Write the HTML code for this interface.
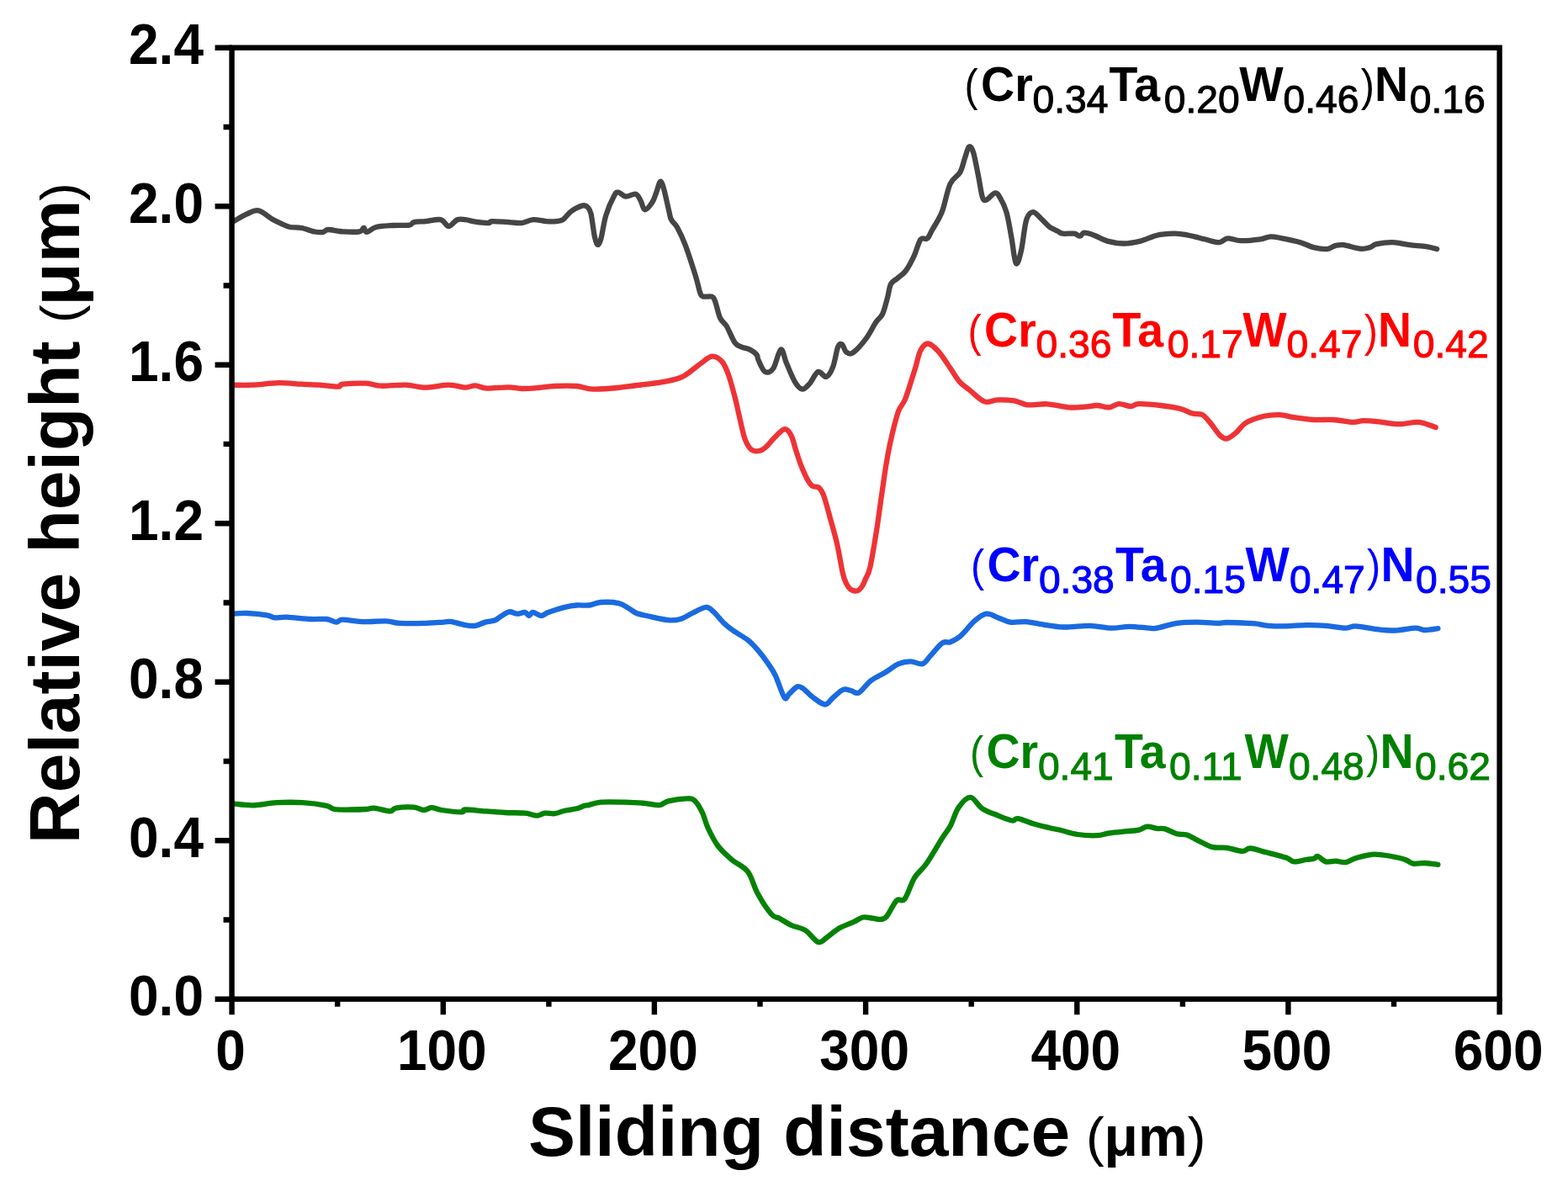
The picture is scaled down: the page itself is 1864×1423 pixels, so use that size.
<!DOCTYPE html>
<html><head><meta charset="utf-8"><title>Relative height vs sliding distance</title>
<style>html,body{margin:0;padding:0;background:#fff;}svg{display:block;}</style>
</head><body>
<svg width="1864" height="1423" viewBox="0 0 1864 1423">
<rect width="1864" height="1423" fill="#fff"/>
<g fill="none" stroke-width="6.3" stroke-linejoin="round" stroke-linecap="round">
<path stroke="#454545" d="M277.9,263.1C280.5,261.6 288.7,256.4 293.6,254.3C298.5,252.2 302.5,249.3 307.4,250.3C312.3,251.3 318.5,257.6 323.1,260.2C327.7,262.8 331.3,264.5 334.9,266.1C338.5,267.7 340.9,269.2 344.8,270.0C348.7,270.8 353.6,270.1 358.5,271.0C363.4,271.9 370.0,274.7 374.3,275.5C378.6,276.3 381.5,276.3 384.1,275.9C386.7,275.5 386.1,273.1 390.0,273.0C393.9,272.9 401.5,274.9 407.7,275.3C413.9,275.7 423.3,276.0 427.4,275.3C431.5,274.6 430.8,270.9 432.3,271.0C433.8,271.1 433.7,276.1 436.2,275.9C438.7,275.7 442.0,271.3 447.1,270.0C452.2,268.7 460.1,268.4 466.7,268.0C473.2,267.6 482.1,268.2 486.4,267.6C490.7,267.0 489.0,264.9 492.3,264.1C495.6,263.4 500.9,263.6 506.1,263.1C511.4,262.6 519.2,260.2 523.8,261.2C528.4,262.2 530.3,269.0 533.6,269.0C536.9,269.0 540.2,262.5 543.5,261.2C546.8,259.9 549.7,260.8 553.3,261.2C556.9,261.6 560.5,263.0 565.1,263.7C569.7,264.4 577.5,265.2 580.8,265.1C584.1,265.0 580.9,263.3 584.8,263.1C588.7,262.9 598.5,263.8 604.4,264.1C610.3,264.4 615.1,265.6 620.0,265.1C624.9,264.6 628.9,261.5 633.8,261.2C638.7,260.9 644.9,262.8 649.5,263.1C654.1,263.4 658.0,263.4 661.3,263.1C664.6,262.8 666.2,263.2 669.2,261.2C672.2,259.2 675.1,254.1 679.0,251.3C682.9,248.5 689.5,245.2 692.8,244.4C696.1,243.6 697.1,244.8 698.7,246.4C700.3,248.1 701.3,248.7 702.6,254.3C703.9,259.9 705.4,273.7 706.6,279.8C707.9,285.9 708.8,290.0 710.1,290.7C711.4,291.4 712.7,289.6 714.4,283.8C716.1,278.1 717.7,264.7 720.3,256.2C722.9,247.7 727.7,237.2 730.2,232.6C732.7,228.0 732.8,228.5 735.1,228.7C737.4,228.9 740.5,233.3 743.9,233.6C747.3,233.9 752.8,229.9 755.7,230.7C758.7,231.5 759.8,235.4 761.6,238.5C763.4,241.6 764.3,249.0 766.6,249.3C768.9,249.6 773.1,243.9 775.4,240.5C777.7,237.1 778.7,232.8 780.3,228.7C781.9,224.6 783.4,216.6 784.9,215.9C786.4,215.2 787.5,219.1 789.2,224.8C790.9,230.5 793.6,244.2 795.1,250.3C796.6,256.4 796.4,257.9 798.0,261.2C799.6,264.5 802.1,264.9 804.9,270.0C807.7,275.1 811.2,282.1 814.8,291.6C818.4,301.1 823.6,317.6 826.6,327.1C829.6,336.6 830.9,344.4 832.5,348.7C834.1,352.9 834.1,352.0 836.4,352.6C838.7,353.2 843.9,351.6 846.2,352.6C848.5,353.6 848.6,354.2 850.2,358.5C851.9,362.8 853.8,373.3 856.1,378.2C858.4,383.1 861.0,383.1 863.9,388.0C866.8,392.9 870.8,403.6 873.8,407.7C876.8,411.8 878.8,411.3 881.7,412.6C884.7,413.9 888.5,414.1 891.5,415.6C894.5,417.1 897.7,419.4 899.4,421.5C901.1,423.6 899.9,424.8 901.6,428.2C903.3,431.6 906.5,440.4 909.5,442.0C912.5,443.6 916.2,442.4 919.3,438.0C922.4,433.6 925.6,416.4 928.2,415.4C930.8,414.4 932.3,425.7 935.1,432.1C937.9,438.5 941.8,448.7 944.9,453.8C948.0,458.9 950.8,462.3 953.8,462.6C956.8,462.9 959.5,459.2 962.6,455.8C965.7,452.4 969.2,443.3 972.5,442.0C975.8,440.7 979.3,448.9 982.3,447.9C985.2,446.9 987.9,442.0 990.2,436.1C992.5,430.2 994.3,416.9 996.1,412.5C997.9,408.1 999.4,408.5 1001.0,409.5C1002.6,410.5 1003.8,416.8 1005.9,418.4C1008.0,420.0 1009.9,422.0 1013.8,419.4C1017.7,416.8 1024.9,408.7 1029.5,402.6C1034.1,396.5 1038.0,387.9 1041.3,383.0C1044.6,378.1 1046.9,378.0 1049.2,373.1C1051.5,368.2 1053.5,359.4 1055.1,353.5C1056.7,347.6 1057.0,341.5 1059.0,337.7C1061.0,333.9 1064.0,333.4 1066.9,330.8C1069.9,328.2 1073.4,326.4 1076.7,322.0C1080.0,317.6 1083.6,310.5 1086.6,304.3C1089.5,298.1 1091.8,288.1 1094.4,284.6C1097.0,281.2 1100.0,285.4 1102.3,283.6C1104.5,281.8 1105.0,279.1 1107.9,273.8C1110.8,268.6 1116.1,261.3 1119.7,252.1C1123.3,242.9 1125.9,226.6 1129.5,218.7C1133.1,210.8 1138.3,210.2 1141.3,204.9C1144.2,199.7 1145.4,192.3 1147.2,187.2C1149.0,182.1 1150.4,175.4 1152.1,174.4C1153.8,173.4 1155.3,175.6 1157.1,181.3C1158.9,187.1 1161.2,200.1 1163.0,208.9C1164.8,217.8 1166.3,229.7 1167.9,234.4C1169.5,239.2 1170.3,238.2 1172.8,237.4C1175.2,236.6 1180.0,230.0 1182.6,229.5C1185.2,229.0 1186.2,230.6 1188.5,234.4C1190.8,238.2 1194.1,244.2 1196.4,252.1C1198.7,260.0 1200.4,271.4 1202.3,281.6C1204.2,291.8 1205.8,310.5 1207.8,313.1C1209.8,315.7 1212.1,305.9 1214.1,297.4C1216.1,288.9 1217.7,269.6 1220.0,262.0C1222.3,254.4 1225.0,252.4 1227.9,252.1C1230.9,251.8 1234.4,257.1 1237.7,260.0C1241.0,262.9 1244.3,267.3 1247.6,269.8C1250.9,272.3 1254.8,273.5 1257.4,274.8C1260.0,276.1 1260.0,277.2 1263.3,277.7C1266.6,278.2 1273.7,277.2 1277.1,277.7C1280.5,278.2 1281.9,280.9 1283.9,280.7C1285.9,280.5 1286.1,276.9 1288.9,276.7C1291.7,276.5 1296.1,278.0 1300.7,279.7C1305.3,281.4 1310.5,285.0 1316.4,286.6C1322.3,288.2 1329.5,289.5 1336.1,289.5C1342.7,289.5 1349.2,288.2 1355.8,286.6C1362.3,285.0 1368.9,281.2 1375.4,279.7C1382.0,278.2 1389.8,277.9 1395.1,277.7C1400.3,277.5 1402.8,278.1 1406.9,278.7C1411.1,279.3 1415.8,280.4 1420.0,281.3C1424.2,282.2 1426.9,283.2 1431.8,284.3C1436.7,285.4 1444.9,288.4 1449.5,288.2C1454.1,288.0 1455.0,283.6 1459.3,283.3C1463.6,283.0 1468.5,286.0 1475.1,286.2C1481.7,286.4 1492.8,285.1 1498.7,284.3C1504.6,283.5 1506.2,281.5 1510.5,281.3C1514.8,281.1 1518.4,282.2 1524.3,283.3C1530.2,284.4 1539.7,286.4 1545.9,288.2C1552.1,290.0 1556.3,292.8 1561.6,294.1C1566.8,295.4 1573.1,296.4 1577.4,296.1C1581.7,295.8 1583.9,292.9 1587.2,292.1C1590.5,291.3 1592.2,290.6 1597.1,291.2C1602.0,291.8 1611.5,295.2 1616.7,295.7C1621.9,296.2 1625.2,295.0 1628.5,294.1C1631.8,293.2 1631.8,291.2 1636.4,290.2C1641.0,289.2 1649.5,288.0 1656.1,288.2C1662.7,288.4 1669.2,290.4 1675.8,291.2C1682.3,292.0 1690.0,292.3 1695.4,293.1C1700.8,293.9 1706.1,295.6 1708.2,296.1"/>
<path stroke="#ee3336" d="M275.9,457.7C279.8,457.7 290.3,458.1 299.5,457.7C308.7,457.3 321.2,455.4 331.0,455.2C340.8,455.0 350.3,456.3 358.5,456.7C366.7,457.1 373.0,457.2 380.2,457.7C387.4,458.2 397.2,459.9 401.8,459.7C406.4,459.5 402.1,457.4 407.7,456.7C413.3,456.0 427.8,455.4 435.3,455.7C442.9,456.0 445.1,458.4 453.0,458.7C460.9,459.0 473.6,457.4 482.5,457.7C491.4,458.0 497.6,460.7 506.1,460.7C514.6,460.7 525.7,457.7 533.6,457.7C541.5,457.7 548.0,460.6 553.3,460.7C558.5,460.8 560.8,458.1 565.1,458.3C569.4,458.5 572.4,461.3 578.9,461.6C585.4,461.9 597.5,460.2 604.4,460.3C611.2,460.4 614.1,461.9 620.0,462.0C625.9,462.1 633.2,461.5 639.7,461.0C646.2,460.5 651.8,459.3 659.3,459.0C666.8,458.7 677.3,458.4 684.9,459.0C692.5,459.6 696.4,462.3 704.6,462.6C712.8,462.9 725.2,461.8 734.1,461.0C743.0,460.2 748.9,459.1 757.7,458.0C766.6,456.9 778.4,455.7 787.2,454.1C796.1,452.5 803.2,451.8 810.8,448.2C818.3,444.6 826.6,436.6 832.5,432.5C838.4,428.4 842.0,424.1 846.2,423.6C850.5,423.1 854.7,425.9 858.0,429.5C861.3,433.1 863.3,438.0 865.9,445.2C868.5,452.4 871.5,463.9 873.8,472.8C876.1,481.7 877.7,490.2 879.7,498.4C881.7,506.6 883.3,515.9 885.6,522.0C887.9,528.1 890.5,532.5 893.5,534.8C896.5,537.1 900.3,536.4 903.3,535.7C906.2,535.0 908.2,533.4 911.2,530.8C914.2,528.2 917.4,523.4 921.0,520.0C924.6,516.6 929.5,510.5 932.8,510.2C936.1,509.9 938.5,514.0 940.7,518.0C942.9,522.0 944.0,528.7 945.9,534.4C947.8,540.1 949.5,546.2 951.8,552.1C954.1,558.0 957.4,565.5 959.7,569.8C962.0,574.1 963.3,576.1 965.6,577.7C967.9,579.4 971.1,577.7 973.4,579.7C975.7,581.7 977.0,583.3 979.3,589.5C981.6,595.7 984.6,607.6 987.2,617.1C989.8,626.6 992.6,635.8 995.1,646.6C997.6,657.4 1000.1,674.0 1002.0,682.0C1003.9,690.0 1005.0,691.4 1006.5,694.5C1008.0,697.6 1009.4,699.2 1011.0,700.5C1012.6,701.8 1014.3,702.3 1016.0,702.5C1017.7,702.7 1019.4,702.6 1021.0,701.5C1022.6,700.4 1024.2,698.2 1025.5,696.0C1026.8,693.8 1027.5,691.6 1029.0,688.0C1030.5,684.4 1032.2,684.0 1034.4,674.1C1036.6,664.2 1040.0,643.3 1042.3,628.9C1044.6,614.5 1046.2,601.0 1048.2,587.5C1050.2,574.0 1052.1,559.7 1054.1,548.2C1056.1,536.7 1057.7,528.5 1060.0,518.7C1062.3,508.9 1065.3,496.4 1067.9,489.2C1070.5,482.0 1073.1,481.6 1075.7,475.4C1078.3,469.2 1081.5,458.4 1083.6,451.8C1085.7,445.2 1086.7,442.0 1088.5,436.1C1090.3,430.2 1091.9,421.0 1094.4,416.4C1096.9,411.8 1099.7,408.2 1103.3,408.5C1106.9,408.8 1111.7,413.5 1116.1,418.4C1120.5,423.3 1125.8,432.1 1129.9,438.0C1134.0,443.9 1136.9,449.5 1140.7,453.8C1144.5,458.1 1147.6,459.7 1152.5,463.6C1157.4,467.5 1164.6,475.4 1170.2,477.4C1175.8,479.4 1180.0,475.6 1185.9,475.4C1191.8,475.2 1199.7,475.4 1205.6,476.4C1211.5,477.4 1214.8,480.6 1221.3,481.3C1227.8,482.0 1236.7,479.8 1244.9,480.3C1253.1,480.8 1263.0,483.7 1270.5,484.3C1278.0,484.9 1284.4,484.1 1290.0,483.7C1295.6,483.3 1299.5,481.9 1304.2,482.0C1308.9,482.1 1314.0,484.7 1318.3,484.4C1322.6,484.1 1325.8,480.3 1330.1,480.1C1334.4,479.9 1340.4,483.0 1344.3,483.0C1348.2,483.0 1347.8,480.3 1353.7,480.1C1359.6,479.9 1371.4,481.0 1379.7,482.0C1388.0,483.0 1397.0,484.4 1403.3,486.0C1409.6,487.6 1413.2,490.3 1417.5,491.5C1421.8,492.7 1425.8,491.2 1429.3,493.1C1432.8,495.0 1435.2,498.5 1438.7,502.6C1442.2,506.7 1447.2,514.8 1450.5,517.9C1453.8,521.0 1455.6,522.0 1458.8,521.4C1462.0,520.8 1465.7,517.5 1469.4,514.4C1473.1,511.3 1475.7,505.9 1481.2,502.6C1486.7,499.3 1495.8,496.4 1502.5,494.8C1509.2,493.2 1515.4,492.9 1521.3,493.1C1527.2,493.3 1531.2,495.2 1537.9,496.2C1544.6,497.2 1553.6,498.5 1561.5,499.0C1569.4,499.5 1577.2,498.5 1585.1,499.0C1593.0,499.5 1602.8,501.7 1608.7,501.9C1614.6,502.1 1615.4,500.3 1620.5,500.2C1625.6,500.1 1632.3,500.7 1639.4,501.4C1646.5,502.1 1655.1,504.1 1663.0,504.2C1670.9,504.3 1679.3,501.3 1686.6,501.9C1693.9,502.5 1703.3,507.0 1706.7,508.0"/>
<path stroke="#1a6ae0" d="M277.1,729.7C279.9,729.6 286.9,728.7 293.6,729.0C300.3,729.3 311.7,730.4 317.2,731.3C322.7,732.2 322.8,734.0 326.7,734.4C330.6,734.8 333.7,733.4 340.8,733.7C347.9,734.0 361.3,735.6 369.2,736.0C377.1,736.4 382.9,735.4 388.0,736.0C393.1,736.6 396.7,739.5 399.8,739.6C402.9,739.7 401.8,736.8 406.9,736.7C412.0,736.6 421.8,738.8 430.5,739.1C439.2,739.4 451.4,738.1 458.9,738.4C466.4,738.7 467.5,740.4 475.4,740.8C483.3,741.2 497.5,741.0 506.1,740.8C514.8,740.6 522.2,739.9 527.3,739.6C532.4,739.3 532.5,738.5 536.8,739.1C541.1,739.7 548.6,742.3 553.3,743.1C558.0,743.9 561.2,744.4 565.1,743.8C569.0,743.2 573.0,740.7 576.9,739.6C580.8,738.5 585.6,738.4 588.7,737.2C591.9,736.0 593.0,734.1 595.8,732.5C598.5,730.9 602.1,727.8 605.2,727.3C608.4,726.8 611.6,729.6 614.7,729.7C617.9,729.8 621.8,727.4 624.1,727.8C626.5,728.2 627.2,732.0 628.8,732.0C630.4,732.0 631.1,727.8 633.5,727.8C635.9,727.8 639.9,732.0 643.0,732.0C646.1,732.0 647.7,729.5 652.4,727.8C657.1,726.1 665.8,723.3 671.3,721.9C676.8,720.5 680.7,719.9 685.5,719.5C690.3,719.1 695.2,720.1 700.0,719.5C704.8,718.9 708.3,716.4 714.2,716.0C720.1,715.6 729.9,715.9 735.4,717.1C740.9,718.3 743.7,721.0 747.2,723.0C750.8,725.0 752.8,727.4 756.7,729.0C760.6,730.6 764.5,731.1 770.8,732.5C777.1,733.9 788.1,736.6 794.4,737.2C800.7,737.8 803.9,737.4 808.6,736.0C813.3,734.6 817.7,731.4 822.8,729.0C827.9,726.6 835.0,722.1 839.3,721.9C843.6,721.7 845.2,724.6 848.7,727.8C852.2,730.9 856.6,737.1 860.5,740.8C864.4,744.5 867.6,746.9 872.3,750.2C877.0,753.5 884.2,757.1 888.9,760.8C893.6,764.5 896.8,768.1 900.7,772.6C904.6,777.1 909.0,782.9 912.5,788.0C916.0,793.1 918.6,796.4 921.9,803.3C925.2,810.2 929.8,825.8 932.5,829.3C935.2,832.8 935.8,826.8 938.4,824.6C941.0,822.4 945.1,817.3 947.9,816.3C950.7,815.3 951.9,816.5 955.0,818.7C958.1,820.9 962.5,826.2 966.8,829.3C971.1,832.4 977.0,837.5 980.9,837.5C984.8,837.5 986.8,832.2 990.4,829.3C994.0,826.3 998.7,821.2 1002.2,819.8C1005.7,818.4 1008.5,820.4 1011.6,821.0C1014.8,821.6 1017.2,825.4 1021.1,823.4C1025.0,821.4 1030.1,813.1 1035.2,809.2C1040.3,805.3 1046.2,803.1 1051.7,799.8C1057.2,796.5 1063.2,791.5 1068.3,789.2C1073.4,787.0 1077.7,786.3 1082.4,786.3C1087.1,786.3 1092.7,790.3 1096.6,789.2C1100.5,788.1 1102.1,783.8 1106.0,779.7C1109.9,775.6 1116.2,767.1 1120.2,764.4C1124.2,761.6 1126.1,764.6 1129.7,763.2C1133.3,761.8 1137.0,760.2 1141.8,756.1C1146.6,752.0 1153.2,742.8 1158.3,738.4C1163.4,734.0 1167.8,730.4 1172.5,729.7C1177.2,729.0 1182.0,732.8 1186.7,734.4C1191.4,736.0 1195.3,738.8 1200.8,739.6C1206.3,740.4 1213.8,738.7 1219.7,739.1C1225.6,739.5 1228.7,740.8 1236.2,741.9C1243.7,743.0 1254.8,745.2 1264.6,745.5C1274.4,745.8 1285.9,743.6 1295.3,743.8C1304.7,744.0 1313.3,746.5 1321.2,746.7C1329.1,746.9 1335.0,744.8 1342.5,744.8C1350.0,744.8 1360.6,746.4 1366.1,746.7C1371.6,747.0 1369.9,747.7 1375.4,746.7C1380.9,745.7 1391.2,742.0 1399.1,740.8C1407.0,739.6 1414.4,739.6 1422.7,739.6C1431.0,739.6 1442.8,740.7 1448.7,740.8C1454.6,740.9 1452.1,740.0 1458.0,740.0C1463.9,740.0 1478.2,740.5 1484.1,740.8C1490.0,741.0 1489.5,741.0 1493.4,741.5C1497.3,742.0 1501.8,743.3 1507.7,743.8C1513.6,744.3 1521.4,744.4 1528.9,744.3C1536.4,744.2 1544.6,743.2 1552.5,743.1C1560.4,743.0 1568.2,743.2 1576.1,743.8C1584.0,744.4 1593.8,746.6 1599.7,746.7C1605.6,746.8 1605.6,744.1 1611.5,744.3C1617.4,744.5 1627.2,746.9 1635.1,747.8C1643.0,748.7 1650.8,749.7 1658.7,749.5C1666.6,749.3 1676.4,746.8 1682.3,746.7C1688.2,746.6 1689.6,748.9 1694.1,749.0C1698.6,749.1 1706.9,747.4 1709.4,747.1"/>
<path stroke="#068206" d="M277.1,955.4C281.0,955.7 292.1,957.5 300.7,957.3C309.3,957.1 319.2,954.7 329.0,954.2C338.8,953.7 349.9,953.6 359.7,954.2C369.5,954.8 381.7,956.5 388.0,957.8C394.3,959.1 392.8,961.2 397.5,962.0C402.2,962.8 410.1,962.5 416.4,962.5C422.7,962.5 430.6,962.3 435.3,962.0C440.0,961.7 440.0,960.2 444.7,960.6C449.4,961.0 459.3,964.4 463.6,964.4C467.9,964.4 466.0,961.4 470.7,960.6C475.4,959.8 486.4,959.3 491.9,959.7C497.4,960.1 500.1,962.9 503.7,963.0C507.2,963.1 509.7,960.1 513.2,960.1C516.8,960.1 519.1,962.1 525.0,963.0C530.9,963.9 543.9,965.4 548.6,965.3C553.3,965.2 548.6,962.6 553.3,962.5C558.0,962.4 569.0,963.8 576.9,964.4C584.8,965.0 592.6,965.6 600.5,966.0C608.4,966.4 617.8,966.1 624.1,966.7C630.4,967.3 634.4,969.6 638.3,969.6C642.2,969.6 644.2,967.1 647.7,966.7C651.2,966.3 655.6,967.7 659.5,967.2C663.4,966.7 667.0,964.7 671.3,963.7C675.6,962.7 681.6,962.3 685.5,961.3C689.4,960.3 692.5,958.5 694.9,957.8C697.3,957.1 696.8,957.8 700.0,957.1C703.2,956.4 707.1,954.2 714.2,953.6C721.3,953.0 733.9,953.4 742.5,953.6C751.1,953.8 759.2,954.2 766.1,954.8C773.0,955.4 779.1,957.5 783.8,957.1C788.5,956.7 789.1,953.7 794.4,952.4C799.7,951.1 810.6,949.6 815.7,949.4C820.8,949.2 822.0,948.5 825.1,951.2C828.2,953.9 831.9,959.9 834.6,965.4C837.4,970.9 838.5,977.6 841.6,984.3C844.7,991.0 848.7,999.2 853.4,1005.5C858.1,1011.8 864.1,1017.0 870.0,1022.1C875.9,1027.2 883.8,1029.5 888.9,1036.2C894.0,1042.9 896.0,1053.7 900.7,1062.2C905.4,1070.7 912.9,1082.1 917.2,1087.0C921.5,1091.9 922.7,1089.5 926.6,1091.7C930.5,1093.9 935.7,1097.6 940.8,1100.0C945.9,1102.4 952.0,1102.6 957.3,1105.9C962.6,1109.2 968.4,1118.6 972.7,1120.0C977.0,1121.4 979.2,1116.8 983.3,1114.1C987.4,1111.3 992.4,1106.5 997.5,1103.5C1002.6,1100.5 1009.3,1098.6 1014.0,1096.4C1018.7,1094.2 1021.9,1091.3 1025.8,1090.5C1029.7,1089.7 1034.1,1091.3 1037.6,1091.7C1041.1,1092.1 1044.2,1093.3 1047.0,1092.9C1049.8,1092.5 1050.9,1093.1 1054.1,1089.4C1057.2,1085.7 1062.4,1073.9 1065.9,1070.5C1069.5,1067.1 1071.9,1073.3 1075.4,1068.8C1079.0,1064.3 1082.9,1050.3 1087.2,1043.3C1091.5,1036.3 1095.8,1034.7 1101.3,1026.8C1106.8,1018.9 1115.4,1003.7 1120.2,996.1C1125.0,988.5 1126.8,987.4 1130.0,981.4C1133.2,975.4 1135.5,965.7 1139.4,960.1C1143.3,954.5 1148.9,947.7 1153.6,947.9C1158.3,948.1 1162.3,957.7 1167.8,961.3C1173.3,964.9 1180.8,967.2 1186.7,969.6C1192.6,972.0 1199.3,974.9 1203.2,975.5C1207.1,976.1 1206.0,972.4 1210.3,973.1C1214.6,973.8 1222.9,977.6 1229.2,979.5C1235.5,981.4 1242.5,982.9 1248.0,984.2C1253.5,985.5 1256.7,986.0 1262.2,987.3C1267.7,988.6 1274.0,991.0 1281.1,992.0C1288.2,993.0 1298.4,993.5 1304.7,993.2C1311.0,992.9 1313.0,991.1 1318.9,990.3C1324.8,989.5 1334.1,988.8 1340.0,988.2C1345.9,987.6 1350.3,987.5 1354.2,986.6C1358.1,985.7 1360.1,982.9 1363.6,982.6C1367.1,982.3 1371.9,984.4 1375.4,984.9C1379.0,985.4 1381.0,984.3 1384.9,985.4C1388.8,986.5 1394.7,990.1 1399.0,991.3C1403.3,992.5 1406.5,991.1 1410.8,992.5C1415.1,993.9 1419.9,997.2 1425.0,999.6C1430.1,1002.0 1436.0,1005.7 1441.5,1007.1C1447.0,1008.5 1452.1,1007.0 1458.0,1007.8C1463.9,1008.6 1472.2,1011.8 1476.9,1011.9C1481.6,1012.0 1481.7,1008.3 1486.4,1008.5C1491.1,1008.7 1498.2,1011.4 1505.3,1013.3C1512.4,1015.1 1523.4,1017.8 1528.9,1019.6C1534.4,1021.5 1534.4,1024.0 1538.3,1024.4C1542.2,1024.8 1548.6,1022.6 1552.5,1022.0C1556.4,1021.4 1559.6,1021.5 1561.9,1020.8C1564.2,1020.1 1564.2,1017.4 1566.6,1018.0C1569.0,1018.6 1572.5,1023.5 1576.1,1024.4C1579.6,1025.4 1584.0,1023.6 1587.9,1023.7C1591.8,1023.8 1595.8,1025.7 1599.7,1025.1C1603.6,1024.5 1606.0,1021.9 1611.5,1020.3C1617.0,1018.7 1625.6,1016.0 1632.7,1015.6C1639.8,1015.2 1647.7,1016.9 1654.0,1018.0C1660.3,1019.1 1666.2,1020.5 1670.5,1022.0C1674.8,1023.5 1676.0,1026.0 1679.9,1026.7C1683.8,1027.4 1689.2,1025.8 1694.1,1026.0C1699.0,1026.2 1706.9,1027.6 1709.4,1027.9"/>
</g>
<rect x="275.6" y="56.7" width="1507.0" height="1131.0" fill="none" stroke="#000" stroke-width="6.4" stroke-linejoin="miter"/>
<path d="M275.6,1187.7V1206.2 M401.2,1187.7V1196.7 M526.8,1187.7V1206.2 M652.4,1187.7V1196.7 M777.9,1187.7V1206.2 M903.5,1187.7V1196.7 M1029.1,1187.7V1206.2 M1154.7,1187.7V1196.7 M1280.3,1187.7V1206.2 M1405.9,1187.7V1196.7 M1531.4,1187.7V1206.2 M1657.0,1187.7V1196.7 M1782.6,1187.7V1206.2 M275.6,1187.7H255.6 M275.6,1093.5H265.6 M275.6,999.2H255.6 M275.6,905.0H265.6 M275.6,810.7H255.6 M275.6,716.5H265.6 M275.6,622.2H255.6 M275.6,527.9H265.6 M275.6,433.7H255.6 M275.6,339.5H265.6 M275.6,245.2H255.6 M275.6,151.0H265.6 M275.6,56.7H255.6" stroke="#000" stroke-width="6.4" fill="none"/>
<g font-family="Liberation Sans, sans-serif" font-weight="bold" font-size="68.5" fill="#000">
<text transform="translate(242,1207.0) scale(0.935,1)" text-anchor="end">0.0</text>
<text transform="translate(242,1018.5) scale(0.935,1)" text-anchor="end">0.4</text>
<text transform="translate(242,830.0) scale(0.935,1)" text-anchor="end">0.8</text>
<text transform="translate(242,641.5) scale(0.935,1)" text-anchor="end">1.2</text>
<text transform="translate(242,453.0) scale(0.935,1)" text-anchor="end">1.6</text>
<text transform="translate(242,264.5) scale(0.935,1)" text-anchor="end">2.0</text>
<text transform="translate(242,76.0) scale(0.935,1)" text-anchor="end">2.4</text>
<text transform="translate(274.1,1272.3) scale(0.935,1)" text-anchor="middle">0</text>
<text transform="translate(525.3,1272.3) scale(0.935,1)" text-anchor="middle">100</text>
<text transform="translate(776.4,1272.3) scale(0.935,1)" text-anchor="middle">200</text>
<text transform="translate(1027.6,1272.3) scale(0.935,1)" text-anchor="middle">300</text>
<text transform="translate(1278.8,1272.3) scale(0.935,1)" text-anchor="middle">400</text>
<text transform="translate(1529.9,1272.3) scale(0.935,1)" text-anchor="middle">500</text>
<text transform="translate(1781.1,1272.3) scale(0.935,1)" text-anchor="middle">600</text>
</g>
<text x="628" y="1374" font-family="Liberation Sans, sans-serif" font-weight="bold" font-size="84" fill="#000">Sliding distance <tspan font-size="65" dx="-4.5" font-weight="normal">(</tspan><tspan font-size="66">μm</tspan><tspan font-size="65" font-weight="normal">)</tspan></text>
<text transform="translate(94,1003) rotate(-90)" font-family="Liberation Sans, sans-serif" font-weight="bold" font-size="84" fill="#000">Relative height <tspan font-size="65" font-weight="normal" dx="-1.8">(</tspan><tspan font-size="84" dx="-1.4">μm</tspan><tspan font-size="65" font-weight="normal" dx="-1.2">)</tspan></text>
<g><text transform="translate(1146.5,120.0) scale(0.9,1)" font-family="Liberation Sans, sans-serif" font-weight="normal" font-size="54" fill="#000000">(</text><text transform="translate(1166.1,120.0) scale(0.97,1)" font-family="Liberation Sans, sans-serif" font-weight="bold" font-size="57.2" fill="#000000">Cr</text><text transform="translate(1227.5,133.8) scale(0.983,1)" font-family="Liberation Sans, sans-serif" font-weight="normal" font-size="47" fill="#000000" stroke="#000000" stroke-width="1.1">0.34</text><text transform="translate(1318.5,120.0) scale(0.97,1)" font-family="Liberation Sans, sans-serif" font-weight="bold" font-size="57.2" fill="#000000">Ta</text><text transform="translate(1383.7,133.8) scale(0.983,1)" font-family="Liberation Sans, sans-serif" font-weight="normal" font-size="47" fill="#000000" stroke="#000000" stroke-width="1.1">0.20</text><text transform="translate(1473.2,120.0) scale(0.97,1)" font-family="Liberation Sans, sans-serif" font-weight="bold" font-size="57.2" fill="#000000">W</text><text transform="translate(1525.5,133.8) scale(0.983,1)" font-family="Liberation Sans, sans-serif" font-weight="normal" font-size="47" fill="#000000" stroke="#000000" stroke-width="1.1">0.46</text><text transform="translate(1617.7,120.0) scale(0.9,1)" font-family="Liberation Sans, sans-serif" font-weight="normal" font-size="54" fill="#000000">)</text><text transform="translate(1634.1,120.0) scale(0.97,1)" font-family="Liberation Sans, sans-serif" font-weight="bold" font-size="57.2" fill="#000000">N</text><text transform="translate(1675.7,133.8) scale(0.983,1)" font-family="Liberation Sans, sans-serif" font-weight="normal" font-size="47" fill="#000000" stroke="#000000" stroke-width="1.1">0.16</text></g>
<g><text transform="translate(1150.5,411.5) scale(0.9,1)" font-family="Liberation Sans, sans-serif" font-weight="normal" font-size="54" fill="#ff0000">(</text><text transform="translate(1170.1,411.5) scale(0.97,1)" font-family="Liberation Sans, sans-serif" font-weight="bold" font-size="57.2" fill="#ff0000">Cr</text><text transform="translate(1231.5,425.3) scale(0.983,1)" font-family="Liberation Sans, sans-serif" font-weight="normal" font-size="47" fill="#ff0000" stroke="#ff0000" stroke-width="1.1">0.36</text><text transform="translate(1322.5,411.5) scale(0.97,1)" font-family="Liberation Sans, sans-serif" font-weight="bold" font-size="57.2" fill="#ff0000">Ta</text><text transform="translate(1387.7,425.3) scale(0.983,1)" font-family="Liberation Sans, sans-serif" font-weight="normal" font-size="47" fill="#ff0000" stroke="#ff0000" stroke-width="1.1">0.17</text><text transform="translate(1477.2,411.5) scale(0.97,1)" font-family="Liberation Sans, sans-serif" font-weight="bold" font-size="57.2" fill="#ff0000">W</text><text transform="translate(1529.5,425.3) scale(0.983,1)" font-family="Liberation Sans, sans-serif" font-weight="normal" font-size="47" fill="#ff0000" stroke="#ff0000" stroke-width="1.1">0.47</text><text transform="translate(1621.7,411.5) scale(0.9,1)" font-family="Liberation Sans, sans-serif" font-weight="normal" font-size="54" fill="#ff0000">)</text><text transform="translate(1638.1,411.5) scale(0.97,1)" font-family="Liberation Sans, sans-serif" font-weight="bold" font-size="57.2" fill="#ff0000">N</text><text transform="translate(1679.7,425.3) scale(0.983,1)" font-family="Liberation Sans, sans-serif" font-weight="normal" font-size="47" fill="#ff0000" stroke="#ff0000" stroke-width="1.1">0.42</text></g>
<g><text transform="translate(1153.9,691.2) scale(0.9,1)" font-family="Liberation Sans, sans-serif" font-weight="normal" font-size="54" fill="#0000ff">(</text><text transform="translate(1173.5,691.2) scale(0.97,1)" font-family="Liberation Sans, sans-serif" font-weight="bold" font-size="57.2" fill="#0000ff">Cr</text><text transform="translate(1234.9,705.0) scale(0.983,1)" font-family="Liberation Sans, sans-serif" font-weight="normal" font-size="47" fill="#0000ff" stroke="#0000ff" stroke-width="1.1">0.38</text><text transform="translate(1325.9,691.2) scale(0.97,1)" font-family="Liberation Sans, sans-serif" font-weight="bold" font-size="57.2" fill="#0000ff">Ta</text><text transform="translate(1391.1,705.0) scale(0.983,1)" font-family="Liberation Sans, sans-serif" font-weight="normal" font-size="47" fill="#0000ff" stroke="#0000ff" stroke-width="1.1">0.15</text><text transform="translate(1480.6,691.2) scale(0.97,1)" font-family="Liberation Sans, sans-serif" font-weight="bold" font-size="57.2" fill="#0000ff">W</text><text transform="translate(1532.9,705.0) scale(0.983,1)" font-family="Liberation Sans, sans-serif" font-weight="normal" font-size="47" fill="#0000ff" stroke="#0000ff" stroke-width="1.1">0.47</text><text transform="translate(1625.1,691.2) scale(0.9,1)" font-family="Liberation Sans, sans-serif" font-weight="normal" font-size="54" fill="#0000ff">)</text><text transform="translate(1641.5,691.2) scale(0.97,1)" font-family="Liberation Sans, sans-serif" font-weight="bold" font-size="57.2" fill="#0000ff">N</text><text transform="translate(1683.1,705.0) scale(0.983,1)" font-family="Liberation Sans, sans-serif" font-weight="normal" font-size="47" fill="#0000ff" stroke="#0000ff" stroke-width="1.1">0.55</text></g>
<g><text transform="translate(1152.9,913.2) scale(0.9,1)" font-family="Liberation Sans, sans-serif" font-weight="normal" font-size="54" fill="#008000">(</text><text transform="translate(1172.5,913.2) scale(0.97,1)" font-family="Liberation Sans, sans-serif" font-weight="bold" font-size="57.2" fill="#008000">Cr</text><text transform="translate(1233.9,927.0) scale(0.983,1)" font-family="Liberation Sans, sans-serif" font-weight="normal" font-size="47" fill="#008000" stroke="#008000" stroke-width="1.1">0.41</text><text transform="translate(1324.9,913.2) scale(0.97,1)" font-family="Liberation Sans, sans-serif" font-weight="bold" font-size="57.2" fill="#008000">Ta</text><text transform="translate(1390.1,927.0) scale(0.983,1)" font-family="Liberation Sans, sans-serif" font-weight="normal" font-size="47" fill="#008000" stroke="#008000" stroke-width="1.1">0.11</text><text transform="translate(1479.6,913.2) scale(0.97,1)" font-family="Liberation Sans, sans-serif" font-weight="bold" font-size="57.2" fill="#008000">W</text><text transform="translate(1531.9,927.0) scale(0.983,1)" font-family="Liberation Sans, sans-serif" font-weight="normal" font-size="47" fill="#008000" stroke="#008000" stroke-width="1.1">0.48</text><text transform="translate(1624.1,913.2) scale(0.9,1)" font-family="Liberation Sans, sans-serif" font-weight="normal" font-size="54" fill="#008000">)</text><text transform="translate(1640.5,913.2) scale(0.97,1)" font-family="Liberation Sans, sans-serif" font-weight="bold" font-size="57.2" fill="#008000">N</text><text transform="translate(1682.1,927.0) scale(0.983,1)" font-family="Liberation Sans, sans-serif" font-weight="normal" font-size="47" fill="#008000" stroke="#008000" stroke-width="1.1">0.62</text></g>
</svg>
</body></html>
